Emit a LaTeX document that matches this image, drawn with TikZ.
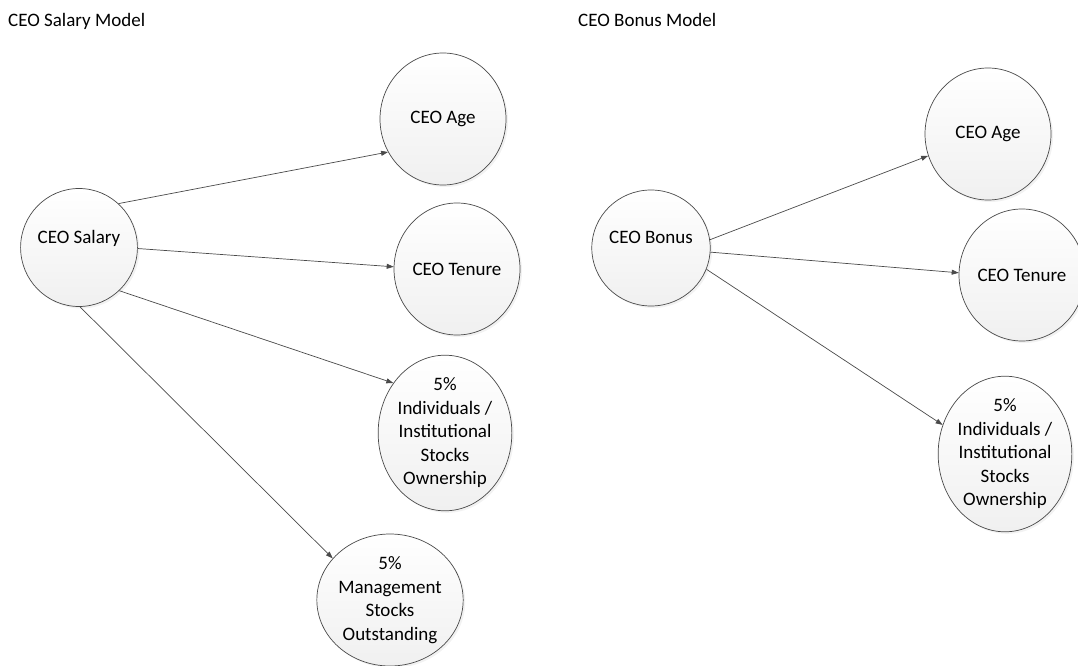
\documentclass[tikz,border=0pt]{standalone}
\usepackage{fontspec}
\setmainfont{Carlito}
\usetikzlibrary{shapes.geometric,arrows.meta,shadows}
\definecolor{edgegray}{HTML}{4A4A4A}
\definecolor{fillbot}{HTML}{F0F0F0}
\begin{document}
\begin{tikzpicture}[x=1pt,y=-1pt,
  font=\fontsize{19}{23.5}\selectfont,
  bubble/.style={ellipse, draw=edgegray, line width=0.7pt, inner sep=0pt,
    top color=white, bottom color=fillbot, align=center,
    drop shadow={opacity=0.10, shadow xshift=2pt, shadow yshift=-2pt}},
  big/.style={minimum width=126pt, minimum height=132pt},
  small/.style={minimum width=112pt, minimum height=118pt},
  link/.style={draw=edgegray, line width=0.7pt, -{Triangle[length=7pt,width=5pt]}},
  title/.style={anchor=base west, inner sep=0pt}]
\useasboundingbox (0,0) rectangle (1078,666);
\fill[white] (0,0) rectangle (1078,666);

\node[title] (t1) at (8,27) {CEO Salary Model};
\node[title] (t2) at (578,27) {CEO Bonus Model};

% left model
\node[bubble, small, text height=13pt, text depth=22pt] (sal) at (79,247.5) {CEO Salary};
\node[bubble, big] (age1) at (443,119) {CEO Age};
\node[bubble, big] (ten1) at (457,269) {CEO Tenure};
\node[bubble, big] (ind1) at (445,433) {5\%\\Individuals /\\Institutional\\Stocks\\Ownership};
\node[bubble, big] (man1) at (390,600) {5\%\\Management\\Stocks\\Outstanding};

\draw[link] (sal.48) -- (age1.211.7);
\draw[link] (sal.-1) -- (ten1.178);
\draw[link] (sal.-47) -- (ind1.136);
\draw[link] (sal.-89) -- (man1.144.5);

% right model
\node[bubble, small, minimum height=116pt, text height=13pt, text depth=22pt] (bon) at (651,248) {CEO Bonus};
\node[bubble, big] (age2) at (988,134) {CEO Age};
\node[bubble, big] (ten2) at (1022,275) {CEO Tenure};
\node[bubble, big] (ind2) at (1005,454) {5\%\\Individuals /\\Institutional\\Stocks\\Ownership};

\draw[link] (bon.8) -- (age2.200.7);
\draw[link] (bon.-4) -- (ten2.178);
\draw[link] (bon.-21) -- (ind2.155.5);
\end{tikzpicture}
\end{document}
